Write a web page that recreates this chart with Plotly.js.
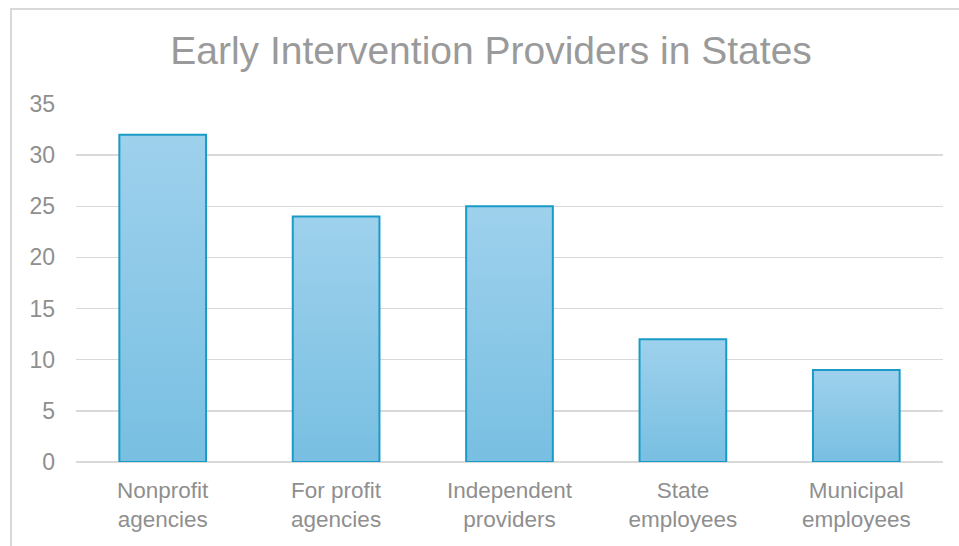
<!DOCTYPE html>
<html>
<head>
<meta charset="utf-8">
<script src="https://cdn.plot.ly/plotly-3.0.1.min.js"></script>
<style>
  html, body { margin: 0; padding: 0; background: #ffffff; }
  #wrap { position: relative; width: 959px; height: 546px; overflow: hidden; }
  #frame { position: absolute; left: 10px; top: 8px; width: 970px; height: 560px; border: 2px solid #d9d9d9; box-sizing: border-box; pointer-events: none; }
  #chart { position: absolute; left: 0; top: 0; width: 959px; height: 546px; }
</style>
</head>
<body>
<div id="wrap">
  <div id="chart"></div>
  <div id="frame"></div>
</div>
<script>
const categories = ["Nonprofit<br>agencies", "For profit<br>agencies", "Independent<br>providers", "State<br>employees", "Municipal<br>employees"];
const values = [32, 24, 25, 12, 9];
const yTicks = [0, 5, 10, 15, 20, 25, 30, 35];
const chartTitle = "Early Intervention Providers in States";

const font = "Arial, 'Liberation Sans', sans-serif";
const textGray = "#8f8f8f";

const data = [{
  type: "bar",
  x: categories,
  y: values,
  marker: { color: "#8cc8e7", line: { color: "#1a9bc7", width: 2 } },
  hoverinfo: "x+y"
}];

const layout = {
  width: 959, height: 546,
  margin: { l: 76, r: 16, t: 104, b: 84 },
  paper_bgcolor: "rgba(0,0,0,0)",
  plot_bgcolor: "#ffffff",
  bargap: 0.5,
  showlegend: false,
  title: {
    text: chartTitle,
    font: { family: font, size: 39, color: "#9a9a9a" },
    xref: "container", x: 0.512, xanchor: "center",
    yref: "container", y: 0.908, yanchor: "middle"
  },
  xaxis: {
    type: "category",
    showgrid: false,
    showline: false,
    zeroline: false,
    ticks: "",
    ticklabelstandoff: 12,
    tickfont: { family: font, size: 22.5, color: textGray },
    automargin: false
  },
  yaxis: {
    range: [0, 35],
    tickvals: yTicks,
    ticktext: yTicks.map(String),
    showgrid: true,
    gridcolor: "#d9d9d9",
    gridwidth: 1.5,
    zeroline: true,
    zerolinecolor: "#d9d9d9",
    zerolinewidth: 1.5,
    showline: false,
    ticks: "",
    ticklabelstandoff: 20,
    tickfont: { family: font, size: 23, color: textGray },
    automargin: false
  }
};

Plotly.newPlot("chart", data, layout, { displayModeBar: false, staticPlot: true }).then(function (gd) {
  const svg = gd.querySelector("svg.main-svg");
  const ns = "http://www.w3.org/2000/svg";
  let defs = svg.querySelector("defs");
  if (!defs) { defs = document.createElementNS(ns, "defs"); svg.insertBefore(defs, svg.firstChild); }
  const grad = document.createElementNS(ns, "linearGradient");
  grad.setAttribute("id", "barGrad");
  grad.setAttribute("x1", "0"); grad.setAttribute("y1", "0");
  grad.setAttribute("x2", "0"); grad.setAttribute("y2", "1");
  [["0", "#9ed1ec"], ["1", "#78bfe2"]].forEach(function (s) {
    const st = document.createElementNS(ns, "stop");
    st.setAttribute("offset", s[0]);
    st.setAttribute("stop-color", s[1]);
    grad.appendChild(st);
  });
  defs.appendChild(grad);
  gd.querySelectorAll(".barlayer .point path").forEach(function (p) {
    p.style.fill = "url(#barGrad)";
  });
});
</script>
</body>
</html>
